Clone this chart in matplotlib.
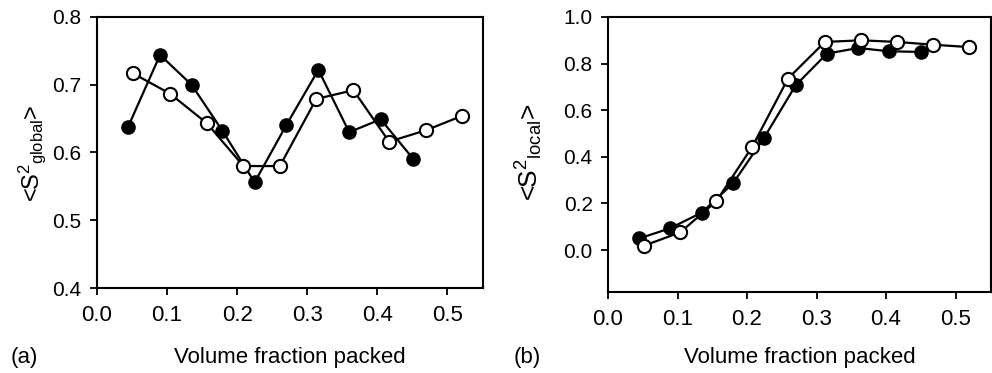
import matplotlib
matplotlib.use('Agg')
import matplotlib.pyplot as plt

plt.rcParams['font.family'] = ['Liberation Sans', 'DejaVu Sans']
plt.rcParams['mathtext.fontset'] = 'custom'
plt.rcParams['mathtext.rm'] = 'Liberation Sans'
plt.rcParams['mathtext.it'] = 'Liberation Sans'

# panel (a) global order parameter
xa_filled = [0.044, 0.090, 0.135, 0.179, 0.225, 0.270, 0.316, 0.360, 0.405, 0.451]
ya_filled = [0.637, 0.744, 0.700, 0.632, 0.556, 0.640, 0.722, 0.630, 0.649, 0.591]
xa_open = [0.051, 0.104, 0.157, 0.209, 0.261, 0.313, 0.366, 0.417, 0.470, 0.521]
ya_open = [0.717, 0.687, 0.643, 0.580, 0.580, 0.679, 0.692, 0.616, 0.633, 0.654]

# panel (b) local order parameter
xb_filled = [0.045, 0.089, 0.135, 0.180, 0.224, 0.270, 0.315, 0.360, 0.404, 0.451]
yb_filled = [0.050, 0.093, 0.161, 0.287, 0.479, 0.707, 0.843, 0.867, 0.853, 0.850]
xb_open = [0.052, 0.104, 0.156, 0.207, 0.259, 0.312, 0.364, 0.416, 0.468, 0.519]
yb_open = [0.019, 0.076, 0.210, 0.441, 0.736, 0.893, 0.900, 0.893, 0.881, 0.871]

xticks = [0.0, 0.1, 0.2, 0.3, 0.4, 0.5]

fig = plt.figure(figsize=(9.92, 3.73), dpi=100)
W, H = 992, 373
ax1 = fig.add_axes([97 / W, 1 - 288 / H, 386 / W, 271 / H])
ax2 = fig.add_axes([608 / W, 1 - 292 / H, 383 / W, 275 / H])


def draw(ax, xf, yf, xo, yo):
    ax.plot(xf, yf, '-o', color='black', lw=1.6, ms=9.5, mfc='black', mec='black', zorder=2)
    ax.plot(xo, yo, '-o', color='black', lw=1.6, ms=9.5, mfc='white', mec='black', mew=1.5, zorder=3)
    for s in ax.spines.values():
        s.set_linewidth(1.5)
    ax.tick_params(direction='out', length=5, width=1.3, top=False, right=False)
    ax.tick_params(axis='x', labelsize=16, pad=7)
    ax.tick_params(axis='y', labelsize=15, pad=6)
    ax.set_xticks(xticks)
    ax.set_xticklabels(['%.1f' % v for v in xticks])
    ax.set_xlim(0, 0.551)


draw(ax1, xa_filled, ya_filled, xa_open, ya_open)
ax1.set_ylim(0.4, 0.8)
ax1.set_yticks([0.4, 0.5, 0.6, 0.7, 0.8])

draw(ax2, xb_filled, yb_filled, xb_open, yb_open)
ax2.set_ylim(-0.18, 1.0)
ax2.set_yticks([0.0, 0.2, 0.4, 0.6, 0.8, 1.0])

fig.text(32 / W, 1 - 153 / H, r'<S$^2$$_{\mathrm{global}}$>', rotation=90, ha='center', va='center', fontsize=17)
fig.text(529 / W, 1 - 152 / H, r'<S$^2$$_{\mathrm{local}}$>', rotation=90, ha='center', va='center', fontsize=19)

fig.text(290 / W, 1 - 357 / H, 'Volume fraction packed', ha='center', va='center', fontsize=16)
fig.text(800 / W, 1 - 357 / H, 'Volume fraction packed', ha='center', va='center', fontsize=16)
fig.text(11 / W, 1 - 357 / H, '(a)', ha='left', va='center', fontsize=16)
fig.text(514 / W, 1 - 357 / H, '(b)', ha='left', va='center', fontsize=16)

fig.savefig('out.png', dpi=100)
